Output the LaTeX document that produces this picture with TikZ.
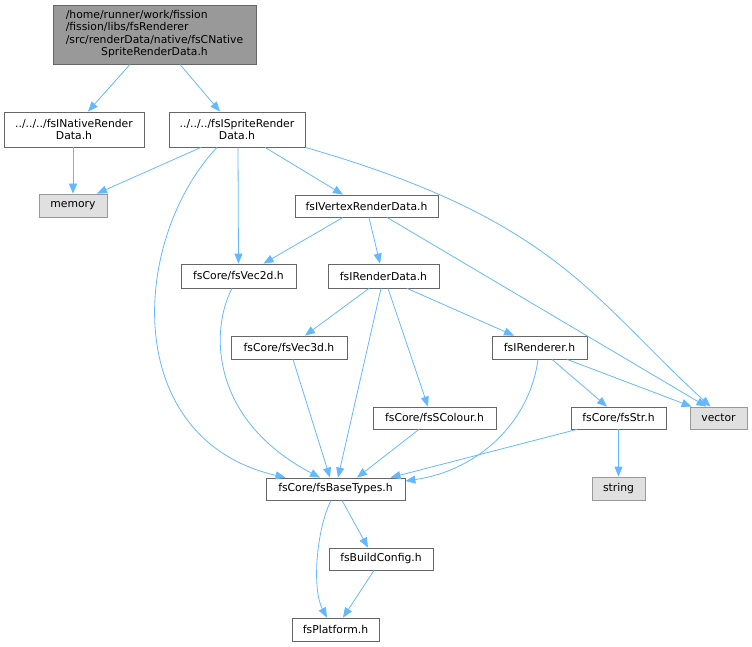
\documentclass[tikz,border=0pt]{standalone}
\usepackage{fontspec}
\setmainfont{DejaVu Sans}
\usetikzlibrary{arrows.meta,calc}

\definecolor{edgeblue}{HTML}{63B8FF}
\definecolor{boxline}{HTML}{666666}
\definecolor{mainfill}{HTML}{999999}
\definecolor{sysline}{HTML}{999999}
\definecolor{sysfill}{HTML}{E0E0E0}

\begin{document}
\begin{tikzpicture}[x=1pt,y=-1pt,
  file/.style={draw=boxline, fill=white, line width=0.8pt, inner sep=0pt,
    font=\fontsize{10.8}{12.3}\selectfont, align=center},
  sysfile/.style={file, draw=sysline, fill=sysfill},
  dep/.style={draw=edgeblue, line width=0.8pt, -{Triangle[length=10pt,width=8pt]}}]

\useasboundingbox (0,0) rectangle (752,647);

%files
\node[file, fill=mainfill, minimum width=203pt, minimum height=59pt] (main) at (154.5,34.5)
  {\begin{tabular}{@{}l@{}}/home/runner/work/fission\\/fission/libs/fsRenderer\\/src/renderData/native/fsCNative\\\multicolumn{1}{@{}c@{}}{SpriteRenderData.h}\end{tabular}};
\node[file, minimum width=140pt, minimum height=35pt] (nat) at (74,129.5) {../../../fsINativeRender\\Data.h};
\node[file, minimum width=136pt, minimum height=35pt] (spr) at (237,129.5) {../../../fsISpriteRender\\Data.h};
\node[sysfile, minimum width=68pt, minimum height=23pt] (mem) at (73,205.5) {memory};
\node[file, minimum width=143pt, minimum height=22pt] (vtx) at (366.5,206) {fsIVertexRenderData.h};
\node[file, minimum width=115pt, minimum height=24pt] (v2d) at (238.5,276) {fsCore/fsVec2d.h};
\node[file, minimum width=111pt, minimum height=24pt] (rdd) at (383.5,276) {fsIRenderData.h};
\node[file, minimum width=116pt, minimum height=23pt] (v3d) at (289,347.5) {fsCore/fsVec3d.h};
\node[file, minimum width=95pt, minimum height=23pt] (rnd) at (539.5,347.5) {fsIRenderer.h};
\node[file, minimum width=123pt, minimum height=22pt] (col) at (434.5,418) {fsCore/fsSColour.h};
\node[file, minimum width=95pt, minimum height=22pt] (str) at (618.5,418) {fsCore/fsStr.h};
\node[sysfile, minimum width=57pt, minimum height=22pt] (vec) at (718.5,418) {vector};
\node[file, minimum width=139pt, minimum height=22pt] (bas) at (335.5,489) {fsCore/fsBaseTypes.h};
\node[sysfile, minimum width=53pt, minimum height=23pt] (sng) at (618.5,488.5) {string};
\node[file, minimum width=104pt, minimum height=22pt] (bld) at (381,559) {fsBuildConfig.h};
\node[file, minimum width=87pt, minimum height=23pt] (plt) at (335.5,629.5) {fsPlatform.h};

%includes
\draw[dep] ([xshift=-24.5pt]main.south) -- ([xshift=14pt]nat.north);
\draw[dep] ([xshift=25.5pt]main.south) -- ([xshift=-17pt]spr.north);
\draw[dep] ([xshift=-1pt]nat.south) -- (mem.north);
%
\draw[dep] ([xshift=-36pt]spr.south) -- ([xshift=24pt]mem.north);
\draw[dep] ([xshift=-20pt]spr.south) .. controls +(-87,93) and +(-165,-38) .. ([xshift=-50pt]bas.north);
\draw[dep] ([xshift=1pt]spr.south) -- (v2d.north);
\draw[dep] ([xshift=28pt]spr.south) -- ([xshift=-23.5pt]vtx.north);
\draw[dep] (spr.south east) .. controls +(250,72) and +(-120,-110) .. ([xshift=-8pt]vec.north);
%
\draw[dep] ([xshift=-23.5pt]vtx.south) -- ([xshift=25pt]v2d.north);
\draw[dep] ([xshift=2.5pt]vtx.south) -- ([xshift=-3.5pt]rdd.north);
\draw[dep] ([xshift=20.5pt]vtx.south) -- ([xshift=-12pt]vec.north);
%
\draw[dep] ([xshift=-6.5pt]v2d.south) .. controls +(-22,42) and +(-110,-58) .. ([xshift=-15.5pt]bas.north);
%
\draw[dep] ([xshift=-14.5pt]rdd.south) -- ([xshift=16pt]v3d.north);
\draw[dep] ([xshift=-2.5pt]rdd.south) -- ([xshift=2.5pt]bas.north);
\draw[dep] ([xshift=4.5pt]rdd.south) -- ([xshift=-6.5pt]col.north);
\draw[dep] ([xshift=23.5pt]rdd.south) -- ([xshift=-25.5pt]rnd.north);
%
\draw[dep] ([xshift=4pt]v3d.south) -- ([xshift=-5.5pt]bas.north);
\draw[dep] ([xshift=-15.5pt]col.south) -- ([xshift=21.5pt]bas.north);
%
\draw[dep] ([xshift=-1.5pt]rnd.south) .. controls +(-8,61) and +(75,-11) .. ([yshift=8pt]bas.east);
\draw[dep] ([xshift=12.5pt]rnd.south) -- ([xshift=-11.5pt]str.north);
\draw[dep] ([xshift=27.5pt]rnd.south) -- ([xshift=2pt]vec.north west);
%
\draw[dep] (str.south) -- (sng.north);
\draw[dep] ([xshift=-41.5pt]str.south) -- ([xshift=55pt]bas.north);
%
\draw[dep] ([xshift=6.5pt]bas.south) -- ([xshift=-13pt]bld.north);
\draw[dep] ([xshift=-4.5pt]bas.south) .. controls +(-15,30) and +(-15,-28) .. ([xshift=-8.5pt]plt.north);
\draw[dep] ([xshift=-7pt]bld.south) -- ([xshift=7.5pt]plt.north);

\end{tikzpicture}
\end{document}
